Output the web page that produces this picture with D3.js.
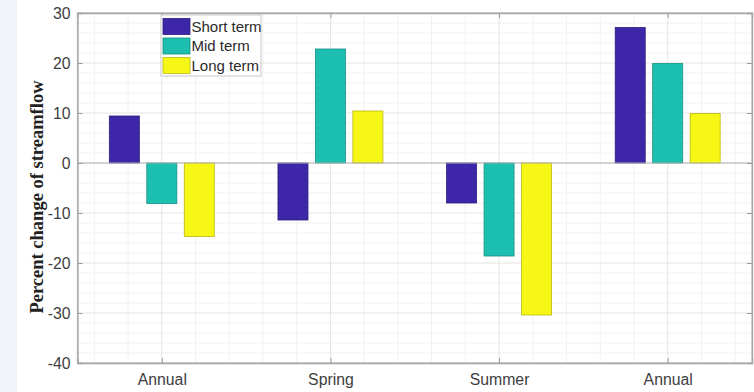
<!DOCTYPE html>
<html>
<head>
<meta charset="utf-8">
<script src="https://cdn.jsdelivr.net/npm/d3@7"></script>
<style>
html,body{margin:0;padding:0;background:#fff;}
svg{display:block;}
</style>
</head>
<body>
<svg id="chart" width="754" height="392"></svg>
<script>
const categories = ["Annual", "Spring", "Summer", "Annual"];
const seriesNames = ["Short term", "Mid term", "Long term"];
const shortTerm = [9.4, -11.4, -8.0, 27.1];
const midTerm = [-8.1, 22.8, -18.6, 19.9];
const longTerm = [-14.7, 10.4, -30.4, 9.9];
const seriesColors = ["#3e26a8", "#1dbfb0", "#f7f716"];
const yTicks = [30, 20, 10, 0, -10, -20, -30, -40];
const yLabel = "Percent change of streamflow";

const series = [shortTerm, midTerm, longTerm];
const svg = d3.select("#chart");
const W = 754, H = 392;
const m = {left: 77.5, right: 752, top: 13, bottom: 363};

svg.append("rect").attr("x", 0).attr("y", 0).attr("width", 17).attr("height", H).attr("fill", "#f1f4fa");

const x = d3.scaleLinear().domain([0.5, categories.length + 0.5]).range([m.left, m.right]);
const y = d3.scaleLinear().domain([-40, 30]).range([m.bottom, m.top]);

const g = svg.append("g");
g.append("rect").attr("x", m.left).attr("y", m.top).attr("width", m.right - m.left).attr("height", m.bottom - m.top).attr("fill", "#fff");

// minor grid
const minorX = d3.range(0.6, 4.5, 0.2).filter(v => Math.abs(v - Math.round(v)) > 0.01);
const minorY = d3.range(-38, 30, 2).filter(v => v % 10 !== 0);
g.append("g").selectAll("line").data(minorX).join("line")
  .attr("x1", d => x(d)).attr("x2", d => x(d)).attr("y1", m.top).attr("y2", m.bottom)
  .attr("stroke", "#f1f1f1").attr("stroke-width", 1);
g.append("g").selectAll("line").data(minorY).join("line")
  .attr("y1", d => y(d)).attr("y2", d => y(d)).attr("x1", m.left).attr("x2", m.right)
  .attr("stroke", "#f1f1f1").attr("stroke-width", 1);
// major grid
g.append("g").selectAll("line").data(d3.range(1, categories.length + 1)).join("line")
  .attr("x1", d => x(d)).attr("x2", d => x(d)).attr("y1", m.top).attr("y2", m.bottom)
  .attr("stroke", "#e4e4e4").attr("stroke-width", 1);
g.append("g").selectAll("line").data(yTicks).join("line")
  .attr("y1", d => y(d)).attr("y2", d => y(d)).attr("x1", m.left).attr("x2", m.right)
  .attr("stroke", "#e4e4e4").attr("stroke-width", 1);

// bars
const barW = 0.178, off = 0.2222;
series.forEach((vals, si) => {
  g.append("g").selectAll("rect").data(vals).join("rect")
    .attr("x", (d, i) => x(i + 1 + (si - 1) * off - barW / 2))
    .attr("width", x(barW) - x(0))
    .attr("y", d => y(Math.max(0, d)))
    .attr("height", d => Math.abs(y(d) - y(0)))
    .attr("fill", seriesColors[si])
    .attr("stroke", d3.color(seriesColors[si]).darker(0.8))
    .attr("stroke-width", 0.8);
});

// zero baseline
g.append("line").attr("x1", m.left).attr("x2", m.right).attr("y1", y(0)).attr("y2", y(0))
  .attr("stroke", "#b5b5b5").attr("stroke-width", 1.2);

// box
const axColor = "#a6a6a6";
g.append("rect").attr("x", m.left).attr("y", m.top).attr("width", m.right - m.left).attr("height", m.bottom - m.top)
  .attr("fill", "none").attr("stroke", "#c4c4c4").attr("stroke-width", 1.3);

// axes
const fmt = d => String(d);
const yAxis = d3.axisLeft(y).tickValues(yTicks).tickSize(-5).tickPadding(7).tickFormat(fmt);
const ya = svg.append("g").attr("transform", `translate(${m.left},0)`).call(yAxis);
const yAxisR = d3.axisRight(y).tickValues(yTicks).tickSize(-5).tickFormat("");
const yr = svg.append("g").attr("transform", `translate(${m.right},0)`).call(yAxisR);
const xAxis = d3.axisBottom(x).tickValues(d3.range(1, categories.length + 1)).tickSize(-5).tickPadding(11).tickFormat(d => categories[d - 1]);
const xa = svg.append("g").attr("transform", `translate(0,${m.bottom})`).call(xAxis);
const xAxisT = d3.axisTop(x).tickValues(d3.range(1, categories.length + 1)).tickSize(-5).tickFormat("");
const xt = svg.append("g").attr("transform", `translate(0,${m.top})`).call(xAxisT);
[ya, yr, xa, xt].forEach(a => {
  a.select(".domain").attr("stroke", axColor).attr("stroke-width", 1.3);
  a.selectAll(".tick line").attr("stroke", "#9a9a9a");
  a.selectAll("text").attr("fill", "#404040").style("font-family", "'Liberation Sans', Arial, sans-serif").style("font-size", "15.8px");
});

// y label
svg.append("text")
  .attr("transform", "translate(43,197) rotate(-90)")
  .attr("text-anchor", "middle")
  .style("font-family", "'Liberation Serif', 'Times New Roman', serif")
  .style("font-weight", "bold").style("font-size", "18.5px").attr("fill", "#222")
  .text(yLabel);

// legend
const lg = svg.append("g").attr("transform", "translate(161,15)");
lg.append("rect").attr("width", 100).attr("height", 61).attr("fill", "#fff").attr("stroke", "#c8c8c8").attr("stroke-width", 1);
seriesNames.forEach((name, i) => {
  const yy = 3.5 + i * 19.5;
  lg.append("rect").attr("x", 2).attr("y", yy).attr("width", 27).attr("height", 16)
    .attr("fill", seriesColors[i]).attr("stroke", d3.color(seriesColors[i]).darker(0.8)).attr("stroke-width", 0.8);
  lg.append("text").attr("x", 30.5).attr("y", yy + 8).attr("dy", "0.35em")
    .style("font-family", "'Liberation Sans', Arial, sans-serif").style("font-size", "15px").attr("fill", "#2a2a2a")
    .text(name);
});
</script>
</body>
</html>
